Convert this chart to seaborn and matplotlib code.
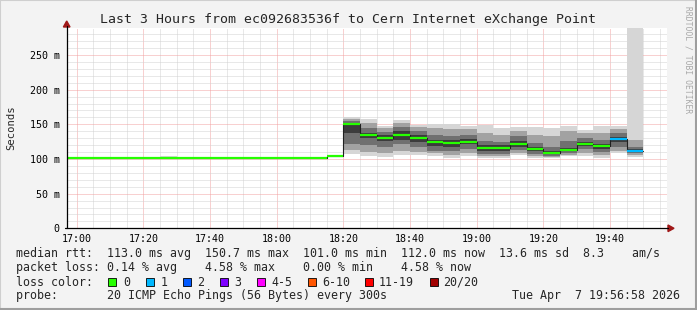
import numpy as np
import pandas as pd
import matplotlib
matplotlib.use("Agg")
import matplotlib.pyplot as plt
import matplotlib.dates as mdates
from matplotlib.ticker import MultipleLocator, FuncFormatter
from matplotlib.patches import Polygon, Rectangle
from matplotlib.lines import Line2D
import seaborn as sns

# ---------------- data ----------------
day = "2026-04-07"
block_start = ["16:55", "17:00", "17:05", "17:10", "17:15", "17:20", "17:25", "17:30",
               "17:35", "17:40", "17:45", "17:50", "17:55", "18:00", "18:05", "18:10",
               "18:15", "18:20", "18:25", "18:30", "18:35", "18:40", "18:45", "18:50",
               "18:55", "19:00", "19:05", "19:10", "19:15", "19:20", "19:25", "19:30",
               "19:35", "19:40", "19:45"]
median_ms = [101.0, 101.0, 101.0, 101.0, 101.0, 101.0, 101.0, 101.0,
             101.0, 101.0, 101.0, 101.0, 101.0, 101.0, 101.0, 101.0,
             104.2, 150.7, 134.9, 130.1, 134.9, 130.1, 124.4, 123.4,
             124.8, 116.2, 116.2, 121.9, 114.3, 109.0, 112.8, 121.9,
             118.1, 128.7, 112.0]
lost_pings = [0, 0, 0, 0, 0, 0, 0, 0, 0, 0, 0, 0, 0, 0, 0, 0,
              0, 0, 0, 0, 0, 0, 0, 0, 0, 0, 0, 0, 0, 0, 0, 0,
              0, 1, 1]
smoke_min = [100.4]*16 + [102.5, 107, 104, 103, 106, 106, 104, 101, 104, 101, 101, 106, 101, 101, 104, 104, 102, 108, 103]
smoke_p10 = [100.6]*16 + [103.0, 113, 110, 108, 112, 110, 108, 106, 108, 104, 104, 109, 104, 103, 106, 108, 106, 112, 106]
smoke_p25 = [100.8]*16 + [103.5, 122, 120, 118, 122, 117, 112, 111, 115, 107, 107, 113, 107, 105, 108, 114, 110, 118, 108]
smoke_p40 = [101.0]*16 + [104.0, 138, 130, 126, 128, 124, 119, 118, 121, 112, 112, 118, 111, 107, 111, 119, 115, 125, 110]
smoke_p60 = [101.0]*16 + [104.5, 152, 138, 134, 140, 134, 128, 127, 129, 120, 120, 126, 117, 112, 116, 125, 121, 132, 114]
smoke_p75 = [101.2]*16 + [105.0, 155, 144, 139, 146, 140, 135, 133, 135, 126, 125, 133, 123, 118, 126, 131, 128, 137, 118]
smoke_p90 = [101.4]*6 + [102.0] + [101.4]*9 + [105.5, 157, 152, 144, 152, 146, 144, 143, 143, 138, 135, 140, 135, 133, 140, 137, 138, 143, 128]
smoke_max = [101.8]*6 + [104.0] + [101.8]*9 + [106.0, 160, 157, 147, 156, 149, 150, 150, 148, 149, 144, 146, 146, 144, 148, 142, 147, 148, 300]

loss_labels = ["0", "1", "2", "3", "4-5", "6-10", "11-19", "20/20"]
loss_colors = ["#26ff00", "#00b8ff", "#0059ff", "#7e00ff", "#ff00ff", "#ff5500", "#ff0000", "#a10000"]

title = "Last 3 Hours from ec092683536f to Cern Internet eXchange Point"
stats_line1 = "median rtt:  113.0 ms avg  150.7 ms max  101.0 ms min  112.0 ms now  13.6 ms sd  8.3    am/s"
stats_line2 = "packet loss: 0.14 % avg    4.58 % max    0.00 % min    4.58 % now"
probe_text = "probe:       20 ICMP Echo Pings (56 Bytes) every 300s"
stamp_text = "Tue Apr  7 19:56:58 2026"
view_start, view_end = "16:57", "19:57"
step = pd.Timedelta(minutes=5)

# ---------------- figure ----------------
W, H = 697, 310
sns.set_theme(style="white")
plt.rcParams["font.family"] = ["DejaVu Sans Mono", "DejaVu Sans"]

fig = plt.figure(figsize=(W / 100, H / 100), dpi=100)
fig.patch.set_facecolor("#f3f3f3")

def fx(x):
    return x / W

def fy(y):
    return 1 - y / H

L, R, T, B = 66.7, 666.7, 28.0, 228.3
ax = fig.add_axes([fx(L), fy(B), (R - L) / W, (B - T) / H])
ax.set_facecolor("white")

starts = pd.to_datetime([f"{day} {s}" for s in block_start])
xs = mdates.date2num(list(starts.to_pydatetime()))
x_edges = np.append(xs, mdates.date2num((starts[-1] + step).to_pydatetime()))

def ext(v):
    v = list(v)
    return v + [v[-1]]

shades = [(smoke_min, smoke_max, "#d6d6d6"),
          (smoke_p10, smoke_p90, "#a2a2a2"),
          (smoke_p25, smoke_p75, "#707070"),
          (smoke_p40, smoke_p60, "#3c3c3c")]
for lo, hi, col in shades:
    ax.fill_between(x_edges, ext(lo), ext(hi), step="post", color=col, lw=0, zorder=1)

df = pd.DataFrame({"t": x_edges, "median": ext(median_ms)})
sns.lineplot(data=df, x="t", y="median", drawstyle="steps-post", color="#202020",
             lw=0.8, estimator=None, sort=False, ax=ax, zorder=3)
ends = xs + (x_edges[1] - x_edges[0])
ax.hlines(median_ms, xs, ends, colors=[loss_colors[l] for l in lost_pings],
          lw=1.6, zorder=4)

ax.set_xlim(mdates.date2num(pd.Timestamp(f"{day} {view_start}").to_pydatetime()),
            mdates.date2num(pd.Timestamp(f"{day} {view_end}").to_pydatetime()))
ax.set_ylim(0, 289)
ax.set_xlabel("")
ax.set_ylabel("")

ax.xaxis.set_major_locator(mdates.MinuteLocator(byminute=[0, 20, 40]))
ax.xaxis.set_minor_locator(mdates.MinuteLocator(byminute=list(range(0, 60, 5))))
ax.xaxis.set_major_formatter(mdates.DateFormatter("%H:%M"))
ax.yaxis.set_major_locator(MultipleLocator(50))
ax.yaxis.set_minor_locator(MultipleLocator(10))
ax.yaxis.set_major_formatter(FuncFormatter(lambda v, p: "0" if v == 0 else f"{int(v)} m"))

ax.set_axisbelow(True)
ax.grid(which="minor", color="#d2d2d2", linestyle=(0, (1, 1)), lw=0.72)
ax.grid(which="major", color="#f2a2a2", linestyle=(0, (1, 1)), lw=0.72)
ax.tick_params(axis="both", which="both", length=0, labelsize=7.2, colors="black")
ax.tick_params(axis="x", pad=4)
ax.tick_params(axis="y", pad=5)
for sp in ax.spines.values():
    sp.set_visible(False)

# axes lines with arrows (rrdtool style)
fig.add_artist(Line2D([fx(L), fx(L)], [fy(B), fy(26)], color="black", lw=0.9))
fig.add_artist(Line2D([fx(L - 2), fx(668)], [fy(B), fy(B)], color="black", lw=0.9))
fig.add_artist(Polygon([[fx(L), fy(21)], [fx(L - 3.3), fy(27)], [fx(L + 3.3), fy(27)]],
                       closed=True, color="#a01818", transform=fig.transFigure))
fig.add_artist(Polygon([[fx(674), fy(B)], [fx(668), fy(B - 3.3)], [fx(668), fy(B + 3.3)]],
                       closed=True, color="#a01818", transform=fig.transFigure))

# frame shading
fig.add_artist(Rectangle((0, 0), 1, 1, transform=fig.transFigure, fill=False,
                         edgecolor="#cfcfcf", lw=1.5))
fig.add_artist(Line2D([0, 1], [fy(309), fy(309)], color="#9e9e9e", lw=1.5))
fig.add_artist(Line2D([fx(696), fx(696)], [0, 1], color="#9e9e9e", lw=1.5))

# texts
fig.text(fx(348), fy(19), title, ha="center", va="center", fontsize=9.5)
fig.text(fx(11), fy(128), "Seconds", rotation=90, ha="center", va="center", fontsize=7.6)
fig.text(fx(688), fy(6), "RRDTOOL / TOBI OETIKER", rotation=270, ha="center", va="top",
         fontsize=5.8, color="#a8a8a8")

fs = 8.4
fig.text(fx(16), fy(254), stats_line1, ha="left", va="center", fontsize=fs)
fig.text(fx(16), fy(268), stats_line2, ha="left", va="center", fontsize=fs)
fig.text(fx(16), fy(282), "loss color:", ha="left", va="center", fontsize=fs)
box_x = [108, 146, 183, 220, 257, 308, 365, 430]
lab_x = [123, 161, 197, 234, 271, 322, 379, 443]
for lab, col, bx, lx in zip(loss_labels, loss_colors, box_x, lab_x):
    fig.add_artist(Rectangle((fx(bx), fy(286)), 8 / W, 8 / H, transform=fig.transFigure,
                             facecolor=col, edgecolor="black", lw=0.6))
    fig.text(fx(lx), fy(282), lab, ha="left", va="center", fontsize=fs)
fig.text(fx(16), fy(296), probe_text, ha="left", va="center", fontsize=fs)
fig.text(fx(680), fy(296), stamp_text, ha="right", va="center", fontsize=fs)

fig.savefig("out.png", dpi=100, facecolor=fig.get_facecolor())
